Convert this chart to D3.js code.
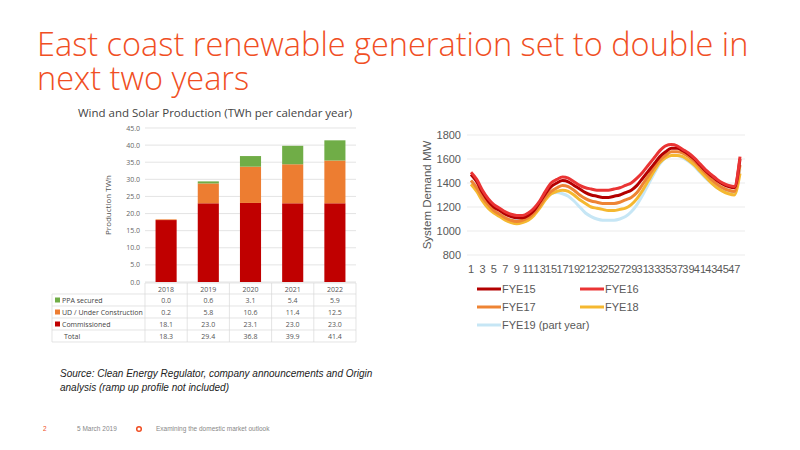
<!DOCTYPE html>
<html><head><meta charset="utf-8">
<script src="https://cdn.jsdelivr.net/npm/d3@7"></script>
<style>body{margin:0;background:#fff}svg{display:block}</style>
</head><body><div id="viz"></div>
<script>
var years = ["2018", "2019", "2020", "2021", "2022"]
var commissioned = [18.1, 23.0, 23.1, 23.0, 23.0]
var underConstruction = [0.2, 5.8, 10.6, 11.4, 12.5]
var ppaSecured = [0.0, 0.6, 3.1, 5.4, 5.9]
var totals = [18.3, 29.4, 36.8, 39.9, 41.4]
var barTicks = [0, 5, 10, 15, 20, 25, 30, 35, 40, 45]

var fye15 = [1470,1410,1320,1250,1200,1170,1140,1120,1110,1110,1130,1170,1240,1310,1370,1400,1420,1410,1380,1350,1320,1300,1290,1280,1280,1290,1300,1320,1340,1380,1440,1500,1560,1620,1660,1690,1690,1670,1640,1600,1550,1500,1460,1420,1390,1370,1360,1600]
var fye16 = [1490,1430,1340,1270,1220,1190,1160,1140,1130,1130,1150,1190,1250,1330,1400,1430,1450,1440,1410,1380,1360,1350,1340,1340,1340,1350,1360,1380,1400,1440,1490,1550,1610,1670,1710,1720,1710,1680,1650,1610,1560,1510,1470,1430,1400,1380,1370,1620]
var fye17 = [1420,1360,1280,1220,1170,1140,1110,1090,1080,1090,1110,1150,1210,1280,1330,1360,1380,1370,1340,1300,1270,1250,1240,1230,1230,1230,1240,1260,1280,1320,1390,1460,1530,1590,1630,1660,1660,1650,1620,1580,1530,1480,1430,1390,1360,1340,1330,1550]
var fye18 = [1390,1330,1250,1190,1150,1120,1090,1070,1060,1070,1090,1130,1190,1260,1310,1330,1340,1330,1300,1260,1230,1200,1190,1180,1170,1170,1180,1190,1220,1270,1340,1420,1500,1570,1610,1630,1630,1620,1590,1550,1500,1450,1400,1360,1330,1310,1300,1480]
var fye19 = [1420,1360,1280,1220,1170,1140,1110,1090,1090,1100,1120,1160,1220,1280,1310,1320,1310,1290,1250,1200,1150,1120,1100,1090,1090,1090,1100,1120,1160,1220,1300,1390,1480,1560,1610,1630,1630,1610,1580,1540,1490,1440,1400,1360,1340,1330,1320,1520]
var demandTicks = [800, 1000, 1200, 1400, 1600, 1800]

var orange = "#f04e23"
var svg = d3.select("#viz").append("svg").attr("width", 800).attr("height", 450)
    .style("font-family", "Liberation Sans, Arial, sans-serif")

// Title
svg.append("text").attr("x", 37).attr("y", 56).attr("fill", orange)
    .style("font-size", "32.5px").style("font-family", "Open Sans, sans-serif").style("font-weight", 300)
    .text("East coast renewable generation set to double in")
svg.append("text").attr("x", 37).attr("y", 90).attr("fill", orange)
    .style("font-size", "32.5px").style("font-family", "Open Sans, sans-serif").style("font-weight", 300)
    .text("next two years")

// Bar chart
var bx = d3.scaleBand().domain(years).range([145, 356]).paddingInner(0.5).paddingOuter(0.25)
var by = d3.scaleLinear().domain([0, 45]).range([282, 128])
var g1 = svg.append("g").style("font-family", "Open Sans, sans-serif")

g1.append("text").attr("x", 215).attr("y", 117).attr("text-anchor", "middle")
    .style("font-size", "11.5px").attr("fill", "#444").text("Wind and Solar Production (TWh per calendar year)")

g1.selectAll(".grid").data(barTicks).enter().append("line")
    .attr("x1", 145).attr("x2", 356).attr("y1", d => by(d)).attr("y2", d => by(d))
    .attr("stroke", "#d9d9d9").attr("stroke-width", 0.7)
g1.selectAll(".yl").data(barTicks).enter().append("text")
    .attr("x", 140).attr("y", d => by(d) + 2.5).attr("text-anchor", "end")
    .style("font-size", "7px").attr("fill", "#666").text(d => d.toFixed(1))
g1.append("text").attr("transform", "translate(111,205) rotate(-90)").attr("text-anchor", "middle")
    .style("font-size", "8px").attr("fill", "#555").text("Production TWh")

var stackData = years.map((y, i) => ({year: y, c: commissioned[i], u: underConstruction[i], p: ppaSecured[i]}))
var series = d3.stack().keys(["c", "u", "p"])(stackData)
var barColors = {c: "#c00000", u: "#ed7d31", p: "#70ad47"}
series.forEach(s => {
  g1.selectAll(".b" + s.key).data(s).enter().append("rect")
    .attr("x", d => bx(d.data.year)).attr("width", bx.bandwidth())
    .attr("y", d => by(d[1])).attr("height", d => by(d[0]) - by(d[1]))
    .attr("fill", barColors[s.key])
})

// Data table
var rowsY = [283, 294, 306, 318, 330, 342]
var tableRows = [
  {label: "", color: null, vals: years},
  {label: "PPA secured", color: "#70ad47", vals: ppaSecured.map(v => v.toFixed(1))},
  {label: "UD / Under Construction", color: "#ed7d31", vals: underConstruction.map(v => v.toFixed(1))},
  {label: "Commissioned", color: "#c00000", vals: commissioned.map(v => v.toFixed(1))},
  {label: "Total", color: null, vals: totals.map(v => v.toFixed(1))}
]
var colW = (356 - 145) / 5
rowsY.forEach((y, i) => {
  g1.append("line").attr("x1", i === 0 ? 145 : 52).attr("x2", 356).attr("y1", y).attr("y2", y)
    .attr("stroke", "#d9d9d9").attr("stroke-width", 0.7)
})
for (var c = 0; c <= 5; c++) {
  g1.append("line").attr("x1", 145 + c * colW).attr("x2", 145 + c * colW).attr("y1", 283).attr("y2", 342)
    .attr("stroke", "#d9d9d9").attr("stroke-width", 0.7)
}
g1.append("line").attr("x1", 52).attr("x2", 52).attr("y1", 294).attr("y2", 342).attr("stroke", "#d9d9d9").attr("stroke-width", 0.7)
tableRows.forEach((r, i) => {
  var yMid = rowsY[i] + 8.5
  if (r.color) g1.append("rect").attr("x", 55).attr("y", yMid - 5).attr("width", 5).attr("height", 5).attr("fill", r.color)
  g1.append("text").attr("x", r.color ? 62 : 64).attr("y", yMid).style("font-size", "7px").attr("fill", "#444").text(r.label)
  r.vals.forEach((v, j) => {
    g1.append("text").attr("x", 145 + (j + 0.5) * colW).attr("y", yMid).attr("text-anchor", "middle")
      .style("font-size", "7px").attr("fill", "#555").text(v)
  })
})

// Line chart
var idx = d3.range(1, 49)
var lx = d3.scalePoint().domain(idx).range([471, 740])
var ly = d3.scaleLinear().domain([800, 1800]).range([255, 135])
var g2 = svg.append("g")
g2.selectAll(".lg").data(demandTicks).enter().append("line")
    .attr("x1", 467).attr("x2", 745).attr("y1", d => ly(d)).attr("y2", d => ly(d))
    .attr("stroke", "#e6e6e6").attr("stroke-width", 0.8)
g2.selectAll(".ll").data(demandTicks).enter().append("text")
    .attr("x", 461).attr("y", d => ly(d) + 4).attr("text-anchor", "end")
    .style("font-size", "11px").attr("fill", "#595959").text(d => d)
g2.selectAll(".xl").data(idx.filter(d => d % 2 === 1)).enter().append("text")
    .attr("x", d => lx(d)).attr("y", 273).attr("text-anchor", "middle")
    .style("font-size", "11px").attr("fill", "#595959").text(d => d)
g2.append("text").attr("transform", "translate(431,195) rotate(-90)").attr("text-anchor", "middle")
    .style("font-size", "11.5px").attr("fill", "#595959").text("System  Demand MW")

var lines = [
  {name: "FYE19 (part year)", vals: fye19, color: "#c6e6f5"},
  {name: "FYE18", vals: fye18, color: "#f5b830"},
  {name: "FYE17", vals: fye17, color: "#ee8434"},
  {name: "FYE15", vals: fye15, color: "#b30000"},
  {name: "FYE16", vals: fye16, color: "#ea3434"}
]
var line = d3.line().x((d, i) => lx(i + 1)).y(d => ly(d)).curve(d3.curveMonotoneX)
lines.forEach(l => {
  g2.append("path").datum(l.vals).attr("d", line).attr("fill", "none")
    .attr("stroke", l.color).attr("stroke-width", 3)
})

var legend = [
  {name: "FYE15", color: "#b30000", x: 477, y: 289},
  {name: "FYE16", color: "#ea3434", x: 580, y: 289},
  {name: "FYE17", color: "#ee8434", x: 477, y: 307},
  {name: "FYE18", color: "#f5b830", x: 580, y: 307},
  {name: "FYE19 (part year)", color: "#c6e6f5", x: 477, y: 325}
]
legend.forEach(l => {
  g2.append("line").attr("x1", l.x).attr("x2", l.x + 24).attr("y1", l.y).attr("y2", l.y)
    .attr("stroke", l.color).attr("stroke-width", 3)
  g2.append("text").attr("x", l.x + 25).attr("y", l.y + 4).style("font-size", "11px").attr("fill", "#595959").text(l.name)
})

// Source and footer
svg.append("text").attr("x", 60).attr("y", 377).style("font-size", "10px").style("font-style", "italic").attr("fill", "#222")
    .text("Source: Clean Energy Regulator, company announcements and Origin")
svg.append("text").attr("x", 60).attr("y", 391).style("font-size", "10px").style("font-style", "italic").attr("fill", "#222")
    .text("analysis (ramp up profile not included)")
svg.append("text").attr("x", 43).attr("y", 431).style("font-size", "6.5px").attr("fill", orange).text("2")
svg.append("text").attr("x", 77).attr("y", 431).style("font-size", "6.5px").attr("fill", "#888").text("5 March 2019")
svg.append("circle").attr("cx", 139).attr("cy", 429).attr("r", 2.3).attr("fill", "none").attr("stroke", orange).attr("stroke-width", 1.5)
svg.append("text").attr("x", 156).attr("y", 431).style("font-size", "6.5px").attr("fill", "#888").text("Examining the domestic market outlook")
</script></body></html>
